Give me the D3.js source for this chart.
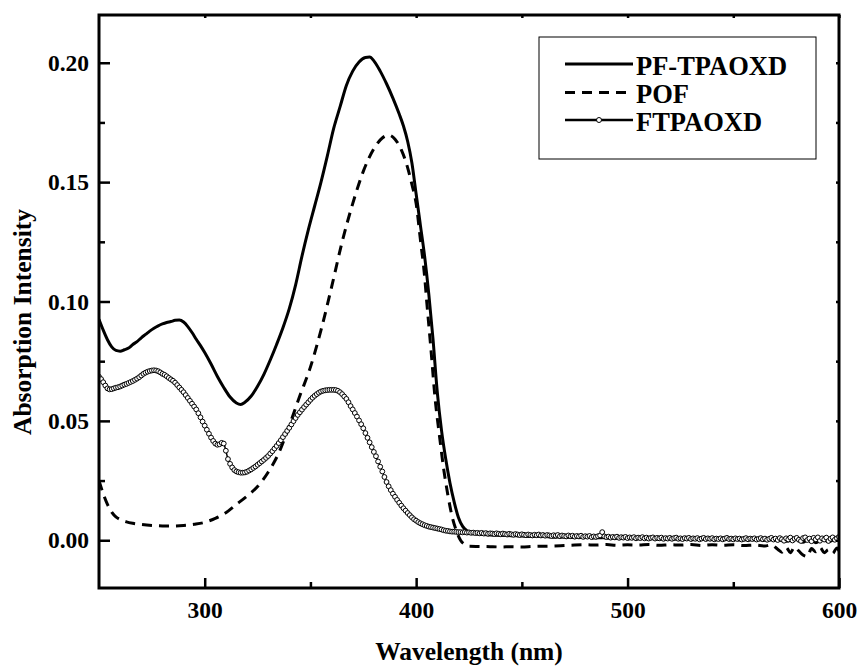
<!DOCTYPE html>
<html>
<head>
<meta charset="utf-8">
<script src="https://cdn.jsdelivr.net/npm/d3@7"></script>
<style>
  body { margin: 0; background: #fff; }
  svg { display: block; }
  text { font-family: "Liberation Serif", "Times New Roman", serif; font-weight: bold; fill: #000; }
</style>
</head>
<body>
<svg id="chart" width="861" height="666"></svg>
<script>
// ---- data ----
var seriesNames = ['PF-TPAOXD', 'POF', 'FTPAOXD']

// PF-TPAOXD (solid line)
var pfWl = [250, 252, 254, 256, 258, 260, 262, 264, 266, 268, 270, 272, 274, 276, 278, 280, 282, 284, 286, 288,
  290, 292, 294, 296, 298, 300, 303, 306, 309, 312, 315, 317, 319, 322, 325, 328, 331, 334, 337, 340,
  343, 346, 349, 352, 355, 358, 361, 364, 367, 370, 373, 376, 378, 380, 383, 386, 389, 392, 394, 396,
  398, 400, 402, 404, 406, 408, 410, 412, 414, 416, 418, 420, 422, 424, 426, 428, 432, 436, 440, 445,
  450, 455, 460, 465, 470, 475, 480, 485, 490, 495, 500, 505, 510, 515, 520, 525, 530, 535, 540, 545,
  550, 555, 560, 565, 570, 575, 580, 583, 586, 589, 592, 595, 598, 600]
var pfAbs = [0.0925, 0.0880, 0.0840, 0.0810, 0.0795, 0.0792, 0.0798, 0.0805, 0.0820, 0.0832, 0.0848, 0.0862, 0.0876, 0.0888, 0.0898, 0.0906, 0.0912, 0.0916, 0.0921, 0.0922,
  0.0914, 0.0895, 0.0870, 0.0842, 0.0815, 0.0786, 0.0738, 0.0686, 0.0640, 0.0600, 0.0575, 0.0569, 0.0578, 0.0604, 0.0645, 0.0695, 0.0755, 0.0820, 0.0890, 0.0970,
  0.1070, 0.1190, 0.1300, 0.1400, 0.1500, 0.1610, 0.1725, 0.1815, 0.1905, 0.1965, 0.2003, 0.2022, 0.2024, 0.2008, 0.1965, 0.1912, 0.1852, 0.1785, 0.1735, 0.1670,
  0.1580, 0.1450, 0.1320, 0.1190, 0.1030, 0.0840, 0.0620, 0.0460, 0.0340, 0.0240, 0.0160, 0.0095, 0.0058, 0.0040, 0.0032, 0.0028, 0.0024, 0.0022, 0.0021, 0.0019,
  0.0018, 0.0016, 0.0017, 0.0013, 0.0014, 0.0011, 0.0012, 0.0010, 0.0011, 0.0008, 0.0009, 0.0007, 0.0009, 0.0006, 0.0007, 0.0005, 0.0008, 0.0004, 0.0006, 0.0003,
  0.0005, 0.0002, 0.0004, 0.0001, 0.0003, -0.0004, 0.0006, -0.0008, 0.0005, -0.0010, 0.0004, -0.0006, 0.0003, -0.0002]

// POF (dashed line)
var pofWl = [250, 252, 254, 256, 258, 260, 263, 266, 270, 275, 280, 285, 290, 295, 300, 305, 310, 315, 320, 325,
  330, 335, 340, 345, 350, 355, 360, 365, 370, 375, 380, 384, 387, 390, 393, 396, 398, 400, 402, 404,
  405, 407, 409, 411, 413, 415, 417, 419, 421, 423, 425, 430, 435, 440, 445, 450, 455, 460, 465, 470,
  475, 480, 485, 490, 495, 500, 505, 510, 515, 520, 525, 530, 535, 540, 545, 550, 555, 560, 565, 568,
  571, 573, 575, 577, 579, 581, 583, 585, 587, 589, 591, 593, 595, 597, 599, 600]
var pofAbs = [0.0250, 0.0195, 0.0150, 0.0118, 0.0098, 0.0087, 0.0077, 0.0071, 0.0066, 0.0062, 0.0060, 0.0060, 0.0062, 0.0067, 0.0075, 0.0092, 0.0115, 0.0150, 0.0185, 0.0225,
  0.0285, 0.0365, 0.0480, 0.0605, 0.0725, 0.0880, 0.1060, 0.1250, 0.1410, 0.1545, 0.1640, 0.1685, 0.1697, 0.1680, 0.1635, 0.1560, 0.1490, 0.1410, 0.1260, 0.1105,
  0.1000, 0.0800, 0.0590, 0.0440, 0.0300, 0.0190, 0.0100, 0.0040, 0.0000, -0.0018, -0.0025, -0.0026, -0.0027, -0.0028, -0.0027, -0.0028, -0.0026, -0.0025, -0.0024, -0.0022,
  -0.0020, -0.0019, -0.0020, -0.0018, -0.0021, -0.0019, -0.0020, -0.0018, -0.0021, -0.0019, -0.0020, -0.0018, -0.0022, -0.0019, -0.0021, -0.0019, -0.0022, -0.0020, -0.0024, -0.0019,
  -0.0038, -0.0050, -0.0030, -0.0052, -0.0028, -0.0045, -0.0062, -0.0068, -0.0035, -0.0048, -0.0030, -0.0052, -0.0040, -0.0055, -0.0032, -0.0045]

// FTPAOXD (line with open circles), one reading per nm from 250 to 600
var ftWl = d3.range(250, 601)
var ftAbs = [
  0.0685, 0.0675, 0.0662, 0.0648, 0.0636, 0.0632, 0.0633, 0.0636, 0.0639, 0.0641,
  0.0644, 0.0648, 0.0652, 0.0655, 0.0659, 0.0663, 0.0667, 0.0672, 0.0677, 0.0683,
  0.0690, 0.0697, 0.0702, 0.0706, 0.0709, 0.0711, 0.0712, 0.0711, 0.0708, 0.0703,
  0.0697, 0.0693, 0.0687, 0.0680, 0.0674, 0.0668, 0.0660, 0.0650, 0.0640, 0.0630,
  0.0620, 0.0608, 0.0596, 0.0584, 0.0572, 0.0560, 0.0548, 0.0532, 0.0515, 0.0497,
  0.0480, 0.0463, 0.0446, 0.0430, 0.0416, 0.0405, 0.0400, 0.0402, 0.0408, 0.0405,
  0.0375, 0.0340, 0.0320, 0.0305, 0.0294, 0.0288, 0.0285, 0.0283, 0.0283, 0.0284,
  0.0287, 0.0292, 0.0297, 0.0303, 0.0309, 0.0316, 0.0323, 0.0330, 0.0337, 0.0345,
  0.0353, 0.0363, 0.0373, 0.0384, 0.0395, 0.0407, 0.0419, 0.0432, 0.0445, 0.0458,
  0.0471, 0.0485, 0.0499, 0.0512, 0.0525, 0.0536, 0.0547, 0.0558, 0.0568, 0.0578,
  0.0588, 0.0597, 0.0605, 0.0612, 0.0618, 0.0623, 0.0626, 0.0628, 0.0629, 0.0630,
  0.0630, 0.0630, 0.0629, 0.0626, 0.0620, 0.0612, 0.0602, 0.0592, 0.0578, 0.0562,
  0.0548, 0.0533, 0.0518, 0.0502, 0.0486, 0.0469, 0.0449, 0.0429, 0.0410, 0.0390,
  0.0370, 0.0352, 0.0330, 0.0308, 0.0288, 0.0265, 0.0244, 0.0226, 0.0210, 0.0195,
  0.0182, 0.0169, 0.0157, 0.0145, 0.0134, 0.0124, 0.0114, 0.0105, 0.0096, 0.0088,
  0.0082, 0.0076, 0.0071, 0.0067, 0.0063, 0.0060, 0.0057, 0.0055, 0.0053, 0.0051,
  0.0049, 0.0047, 0.0045, 0.0042, 0.0040, 0.0039, 0.0037, 0.0036, 0.0036, 0.0035,
  0.0034, 0.0034, 0.0033, 0.0034, 0.0032, 0.0033, 0.0031, 0.0032, 0.0030, 0.0031,
  0.0029, 0.0031, 0.0028, 0.0030, 0.0027, 0.0029, 0.0028, 0.0026, 0.0029, 0.0027,
  0.0025, 0.0028, 0.0026, 0.0024, 0.0027, 0.0025, 0.0023, 0.0026, 0.0024, 0.0022,
  0.0025, 0.0023, 0.0021, 0.0024, 0.0022, 0.0020, 0.0023, 0.0021, 0.0024, 0.0020,
  0.0022, 0.0019, 0.0022, 0.0020, 0.0018, 0.0021, 0.0019, 0.0022, 0.0017, 0.0020,
  0.0018, 0.0016, 0.0020, 0.0017, 0.0019, 0.0015, 0.0018, 0.0016, 0.0019, 0.0014,
  0.0017, 0.0015, 0.0018, 0.0013, 0.0016, 0.0014, 0.0017, 0.0020, 0.0034, 0.0016,
  0.0013, 0.0015, 0.0011, 0.0014, 0.0012, 0.0015, 0.0010, 0.0013, 0.0011, 0.0014,
  0.0009, 0.0012, 0.0010, 0.0013, 0.0008, 0.0011, 0.0009, 0.0013, 0.0008, 0.0011,
  0.0007, 0.0010, 0.0012, 0.0007, 0.0010, 0.0008, 0.0011, 0.0006, 0.0009, 0.0007,
  0.0010, 0.0006, 0.0009, 0.0011, 0.0006, 0.0008, 0.0005, 0.0009, 0.0007, 0.0010,
  0.0005, 0.0008, 0.0006, 0.0009, 0.0004, 0.0007, 0.0010, 0.0005, 0.0008, 0.0006,
  0.0009, 0.0004, 0.0007, 0.0005, 0.0008, 0.0004, 0.0007, 0.0010, 0.0005, 0.0007,
  0.0004, 0.0008, 0.0005, 0.0007, 0.0003, 0.0006, 0.0009, 0.0004, 0.0007, 0.0005,
  0.0008, 0.0003, 0.0006, 0.0009, 0.0004, 0.0007, 0.0002, 0.0006, 0.0010, 0.0003,
  0.0007, 0.0001, 0.0009, 0.0004, -0.0002, 0.0008, 0.0003, 0.0011, -0.0001, 0.0006,
  0.0010, 0.0002, -0.0003, 0.0009, 0.0012, 0.0001, 0.0007, -0.0004, 0.0010, 0.0004,
  0.0012, -0.0002, 0.0008, 0.0003, 0.0011, -0.0003, 0.0006, 0.0012, 0.0002, 0.0008,
  0.0014]

// axis ticks
var xMajor = [300, 400, 500, 600]
var xMinor = [350, 450, 550]
var yMajor = [0.00, 0.05, 0.10, 0.15, 0.20]
var yMinor = [0.025, 0.075, 0.125, 0.175]

// ---- layout ----
var plotL = 99, plotR = 839, plotT = 15, plotB = 588

var svg = d3.select('#chart')
svg.append('rect').attr('width', 861).attr('height', 666).attr('fill', '#fff')

var x = d3.scaleLinear().domain([250, 600]).range([plotL, plotR])
var y = d3.scaleLinear().domain([-0.02, 0.22]).range([plotB, plotT])

function zip(wl, ab) {
  return wl.map(function(d, i) { return [d, ab[i]] })
}

svg.append('clipPath').attr('id', 'plotclip')
  .append('rect')
  .attr('x', plotL).attr('y', plotT)
  .attr('width', plotR - plotL).attr('height', plotB - plotT)

var line = d3.line()
  .x(function(d) { return x(d[0]) })
  .y(function(d) { return y(d[1]) })
  .curve(d3.curveMonotoneX)

var plot = svg.append('g').attr('clip-path', 'url(#plotclip)')

// POF dashed
plot.append('path')
  .datum(zip(pofWl, pofAbs))
  .attr('d', line)
  .attr('fill', 'none')
  .attr('stroke', '#000')
  .attr('stroke-width', 3)
  .attr('stroke-dasharray', '10,7')

// PF-TPAOXD solid
plot.append('path')
  .datum(zip(pfWl, pfAbs))
  .attr('d', line)
  .attr('fill', 'none')
  .attr('stroke', '#000')
  .attr('stroke-width', 3)

// FTPAOXD line + open circles
var ftData = zip(ftWl, ftAbs)
plot.append('path')
  .datum(ftData)
  .attr('d', line)
  .attr('fill', 'none')
  .attr('stroke', '#000')
  .attr('stroke-width', 1.5)

plot.selectAll('circle.ft')
  .data(ftData)
  .enter().append('circle')
  .attr('class', 'ft')
  .attr('cx', function(d) { return x(d[0]) })
  .attr('cy', function(d) { return y(d[1]) })
  .attr('r', 2.4)
  .attr('fill', '#fff')
  .attr('stroke', '#000')
  .attr('stroke-width', 1)

// ---- axes (ticks point inward) ----
var fontTick = '23.5px'

svg.append('g')
  .attr('transform', 'translate(0,' + plotB + ')')
  .call(d3.axisBottom(x).tickValues(xMajor).tickSize(-10).tickPadding(13).tickFormat(d3.format('d')))
svg.append('g')
  .attr('transform', 'translate(0,' + plotB + ')')
  .call(d3.axisBottom(x).tickValues(xMinor).tickSize(-6).tickFormat(''))

svg.append('g')
  .attr('transform', 'translate(' + plotL + ',0)')
  .call(d3.axisLeft(y).tickValues(yMajor).tickSize(-11).tickPadding(10).tickFormat(d3.format('.2f')))
svg.append('g')
  .attr('transform', 'translate(' + plotL + ',0)')
  .call(d3.axisLeft(y).tickValues(yMinor).tickSize(-6).tickFormat(''))

// top and right: short inward ticks
svg.append('g')
  .attr('transform', 'translate(0,' + plotT + ')')
  .call(d3.axisTop(x).tickValues(xMajor.concat(xMinor)).tickSize(-3).tickFormat(''))
svg.append('g')
  .attr('transform', 'translate(' + plotR + ',0)')
  .call(d3.axisRight(y).tickValues(yMajor.concat(yMinor)).tickSize(-3).tickFormat(''))

svg.selectAll('.domain').remove()
svg.selectAll('.tick line').attr('stroke', '#000').attr('stroke-width', 2.5)
svg.selectAll('.tick text')
  .style('font-family', '"Liberation Serif", "Times New Roman", serif')
  .style('font-weight', 'bold')
  .style('font-size', fontTick)
  .attr('fill', '#000')

// frame
svg.append('rect')
  .attr('x', plotL).attr('y', plotT)
  .attr('width', plotR - plotL).attr('height', plotB - plotT)
  .attr('fill', 'none')
  .attr('stroke', '#000')
  .attr('stroke-width', 3)

// axis titles
svg.append('text')
  .attr('x', (plotL + plotR) / 2)
  .attr('y', 660)
  .attr('text-anchor', 'middle')
  .style('font-size', '25.5px')
  .text('Wavelength (nm)')

svg.append('text')
  .attr('transform', 'translate(31,322) rotate(-90)')
  .attr('text-anchor', 'middle')
  .style('font-size', '25.5px')
  .text('Absorption Intensity')

// ---- legend ----
var legend = svg.append('g')
legend.append('rect')
  .attr('x', 539).attr('y', 37)
  .attr('width', 277).attr('height', 122)
  .attr('fill', '#fff')
  .attr('stroke', '#000')
  .attr('stroke-width', 1)

var legendRows = [64, 92.5, 120]
seriesNames.forEach(function(name, i) {
  var ly = legendRows[i]
  var seg = legend.append('line')
    .attr('x1', 565).attr('x2', 633)
    .attr('y1', ly).attr('y2', ly)
    .attr('stroke', '#000')
    .attr('stroke-width', 3)
  if (name === 'POF') seg.attr('stroke-dasharray', '10,7')
  if (name === 'FTPAOXD') {
    seg.attr('stroke-width', 2.6)
    legend.append('circle')
      .attr('cx', 599).attr('cy', ly).attr('r', 2.5)
      .attr('fill', '#fff').attr('stroke', '#000').attr('stroke-width', 1)
  }
  legend.append('text')
    .attr('x', 636)
    .attr('y', ly + 10.5)
    .style('font-size', '26.5px')
    .text(name)
})
</script>
</body>
</html>
